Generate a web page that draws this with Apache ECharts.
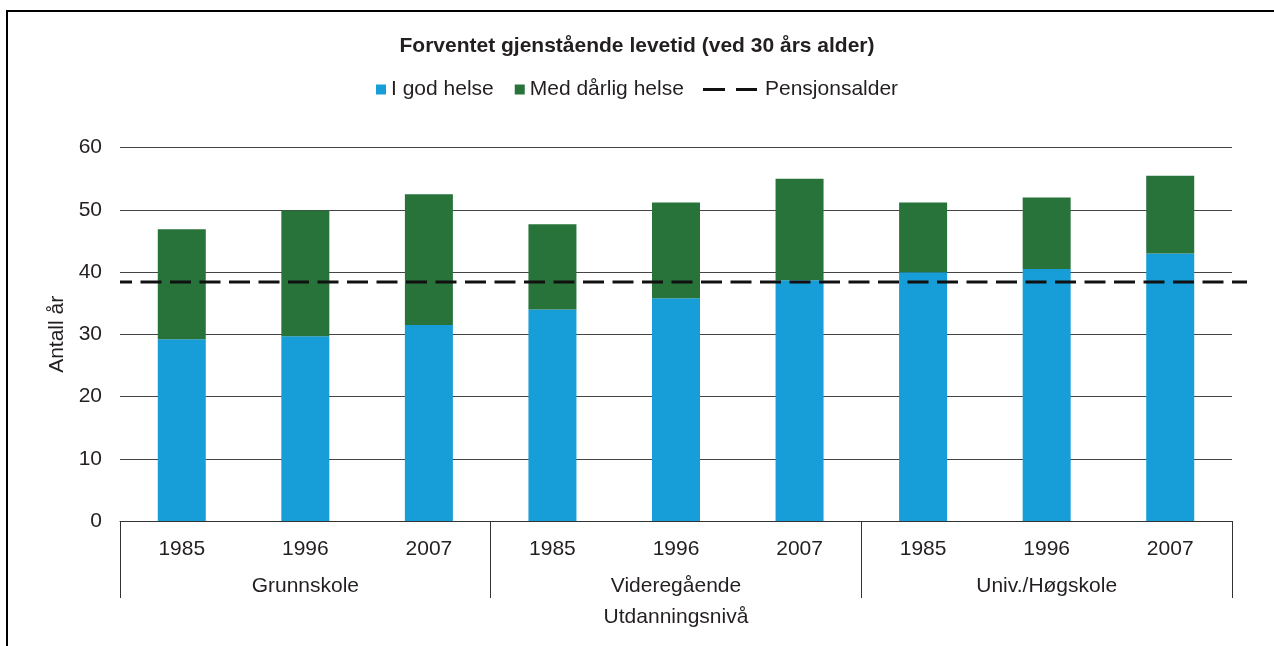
<!DOCTYPE html>
<html>
<head>
<meta charset="utf-8">
<script src="https://cdn.jsdelivr.net/npm/echarts@6/dist/echarts.min.js"></script>
<style>
html,body{margin:0;padding:0;background:#fff;}
#chart{width:1274px;height:646px;}
</style>
</head>
<body>
<div id="chart"></div>
<script>
const titleText = 'Forventet gjenstående levetid (ved 30 års alder)';
const years = ['1985', '1996', '2007', '1985', '1996', '2007', '1985', '1996', '2007'];
const groups = ['Grunnskole', 'Videregående', 'Univ./Høgskole'];
const godHelse = [29.2, 29.7, 31.5, 34.0, 35.8, 38.7, 40.0, 40.5, 43.0];
const darligHelse = [17.7, 20.2, 21.0, 13.7, 15.4, 16.3, 11.2, 11.5, 12.5];
const pensjonsalder = 38.4;
const yTicks = [0, 10, 20, 30, 40, 50, 60];

const FONT = 'Liberation Sans, Arial, sans-serif';
const TXT = '#231f20';
const FS = 21;

const chart = echarts.init(document.getElementById('chart'));
chart.setOption({
  animation: false,
  textStyle: { fontFamily: FONT, color: TXT },
  title: {
    text: titleText,
    left: 'center',
    top: 31,
    textStyle: { fontFamily: FONT, fontSize: 21, fontWeight: 'bold', color: TXT }
  },
  graphic: [{
    type: 'rect',
    shape: { x: 7, y: 11, width: 1400, height: 1000 },
    style: { fill: 'none', stroke: '#000', lineWidth: 2 },
    silent: true
  }],
  legend: [{
    data: ['I god helse', 'Med dårlig helse'],
    left: 376,
    top: 79,
    padding: 0,
    icon: 'rect',
    itemWidth: 10,
    itemHeight: 10,
    itemGap: 21,
    textStyle: { fontFamily: FONT, fontSize: FS, color: TXT }
  }, {
    data: [{ name: 'Pensjonsalder', icon: 'path://M0,0 H22 V3 H0 Z M33,0 H54 V3 H33 Z' }],
    left: 703,
    top: 79,
    padding: 0,
    itemWidth: 54,
    itemHeight: 3,
    itemStyle: { color: '#111', borderWidth: 0 },
    textStyle: { fontFamily: FONT, fontSize: FS, color: TXT, padding: [0, 0, 0, 3] }
  }],
  grid: [
    { left: 120, right: 42, top: 147.7, bottom: 125 },
    { left: 120, right: 27, top: 147.7, bottom: 125 }
  ],
  xAxis: [{
    type: 'category',
    gridIndex: 0,
    data: years,
    position: 'bottom',
    axisLine: { lineStyle: { color: '#333', width: 1 } },
    axisTick: { show: false },
    axisLabel: { fontFamily: FONT, fontSize: FS, color: TXT, margin: 18, interval: 0 }
  }, {
    type: 'category',
    gridIndex: 0,
    data: groups,
    position: 'bottom',
    offset: 0,
    axisLine: { show: false },
    axisTick: { show: true, length: 77, interval: 0, lineStyle: { color: '#333', width: 1 } },
    axisLabel: { fontFamily: FONT, fontSize: FS, color: TXT, margin: 55, interval: 0 },
    name: 'Utdanningsnivå',
    nameLocation: 'middle',
    nameGap: 86,
    nameTextStyle: { fontFamily: FONT, fontSize: FS, color: TXT }
  }, {
    type: 'value',
    gridIndex: 1,
    min: 0,
    max: 1,
    show: false
  }],
  yAxis: [{
    type: 'value',
    gridIndex: 0,
    min: yTicks[0],
    max: yTicks[yTicks.length - 1],
    interval: 10,
    axisLine: { show: false },
    axisTick: { show: false },
    splitLine: { lineStyle: { color: '#444', width: 1 } },
    axisLabel: { fontFamily: FONT, fontSize: FS, color: TXT, margin: 18 },
    name: 'Antall år',
    nameLocation: 'middle',
    nameGap: 51,
    nameTextStyle: { fontFamily: FONT, fontSize: FS, color: TXT }
  }, {
    type: 'value',
    gridIndex: 1,
    min: 0,
    max: 60,
    show: false
  }],
  series: [{
    name: 'I god helse',
    type: 'bar',
    stack: 'total',
    xAxisIndex: 0,
    yAxisIndex: 0,
    barWidth: 48,
    itemStyle: { color: '#179dd8' },
    data: godHelse
  }, {
    name: 'Med dårlig helse',
    type: 'bar',
    stack: 'total',
    xAxisIndex: 0,
    yAxisIndex: 0,
    barWidth: 48,
    itemStyle: { color: '#27733a' },
    data: darligHelse
  }, {
    name: 'Pensjonsalder',
    type: 'line',
    xAxisIndex: 2,
    yAxisIndex: 1,
    symbol: 'none',
    z: 5,
    itemStyle: { color: '#111' },
    lineStyle: { color: '#111', width: 3, type: [21, 8.5], dashOffset: 9 },
    data: [[0, pensjonsalder], [1, pensjonsalder]]
  }]
});
</script>
</body>
</html>
